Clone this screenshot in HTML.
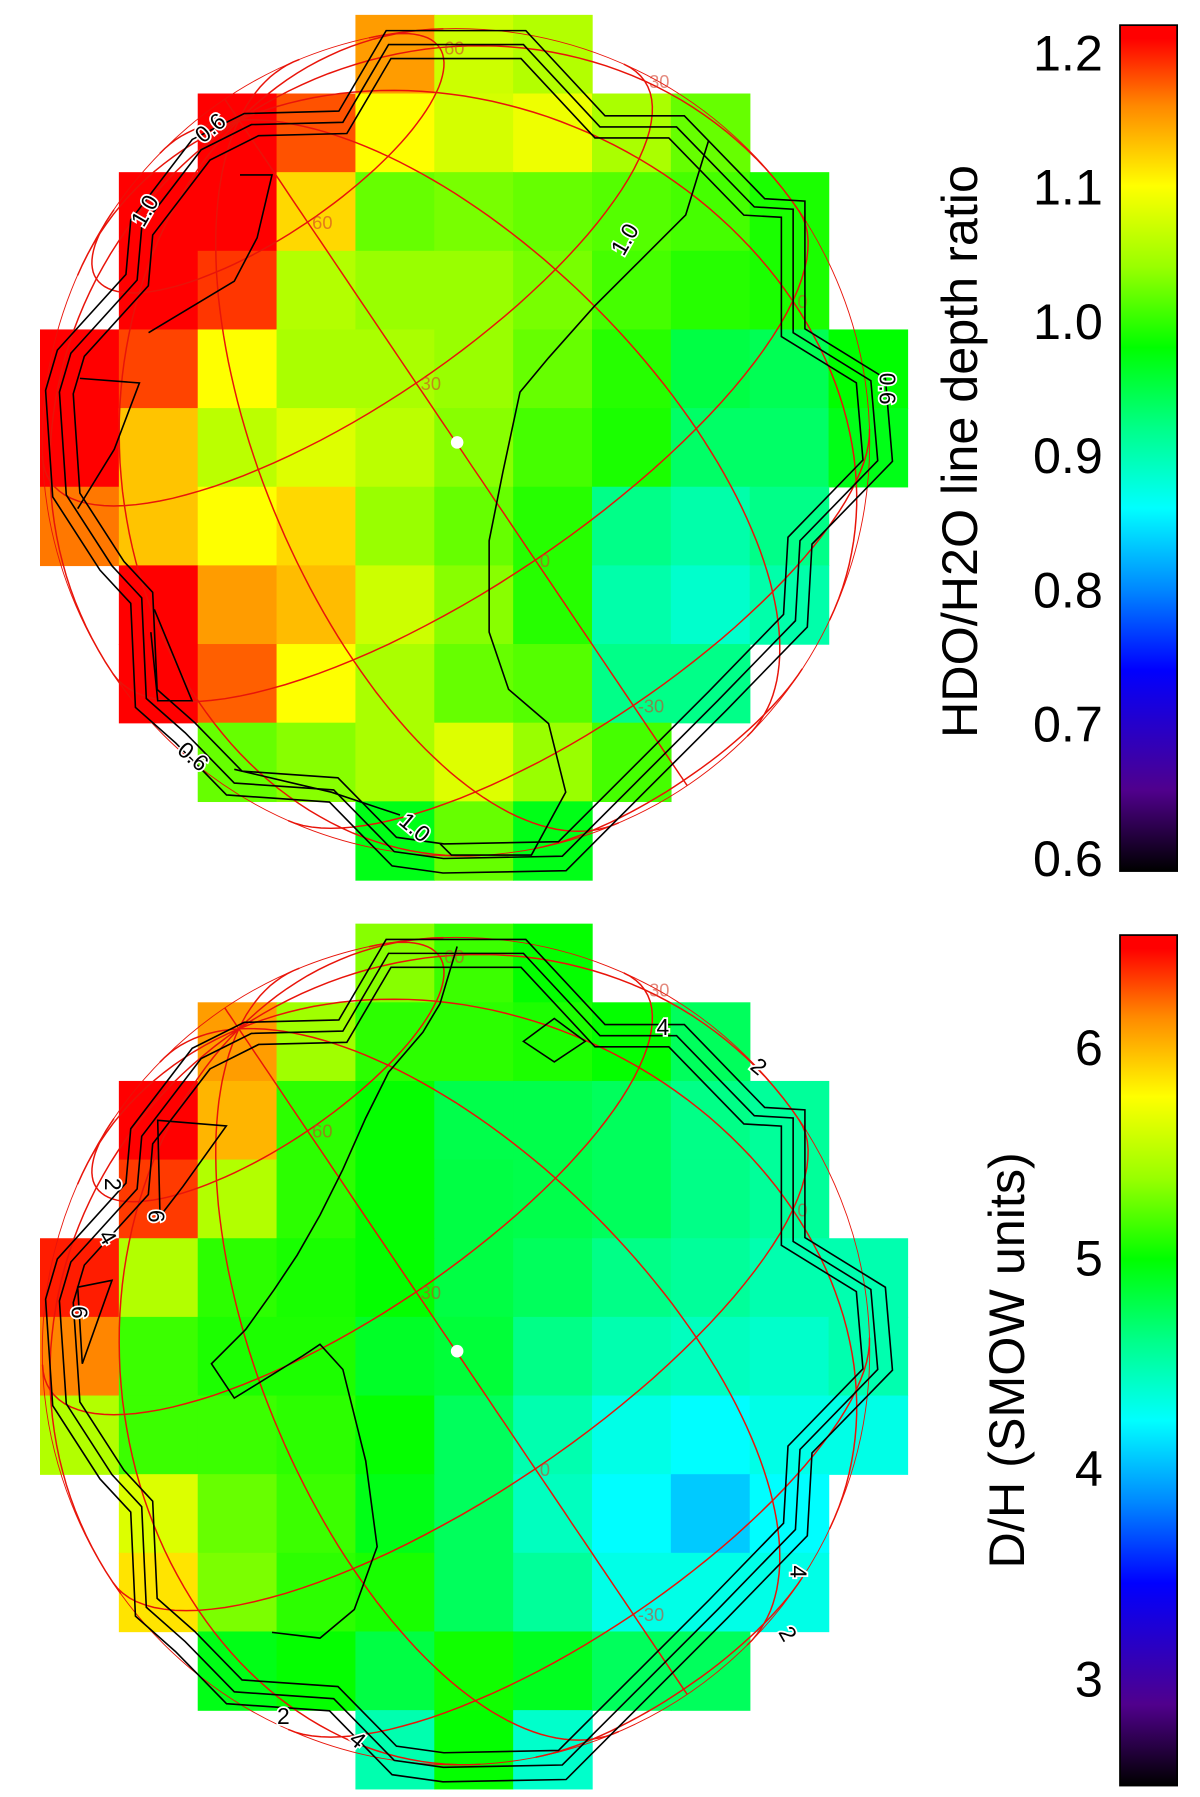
<!DOCTYPE html>
<html><head><meta charset="utf-8">
<style>
html,body{margin:0;padding:0;background:#fff;}
svg{display:block;}
text{font-family:"Liberation Sans",sans-serif;}
</style></head>
<body>
<svg id="fig" width="1200" height="1797" viewBox="0 0 1050 1572" preserveAspectRatio="none" xmlns="http://www.w3.org/2000/svg">
<defs>
<linearGradient id="cmap" x1="0" y1="1" x2="0" y2="0"></linearGradient>
</defs>
<g id="top-panel"></g>
<g id="bot-panel"></g>
<g id="bars"></g>
</svg>
<script>
// ---- data ----
const N = null;
const ratioGrid = [
[N,N,N,N,1.15,1.07,1.055,N,N,N,N],
[N,N,1.21,1.18,1.10,1.075,1.09,1.05,1.02,N,N],
[N,1.21,1.21,1.12,1.02,1.027,1.02,1.013,1.007,0.99,N],
[N,1.21,1.19,1.055,1.04,1.04,1.027,1.007,0.995,0.99,N],
[1.21,1.185,1.10,1.05,1.05,1.04,1.02,0.995,0.95,0.943,0.98],
[1.21,1.13,1.06,1.08,1.06,1.033,1.007,0.99,0.935,0.935,0.97],
[1.166,1.13,1.10,1.12,1.04,1.02,0.995,0.92,0.903,0.92,N],
[N,1.21,1.15,1.134,1.07,1.033,0.995,0.903,0.886,0.903,N],
[N,1.21,1.175,1.10,1.05,1.02,1.013,0.92,0.92,N,N],
[N,N,1.02,1.033,1.05,1.08,1.04,1.007,N,N,N],
[N,N,N,N,0.97,1.02,0.97,N,N,N,N]
];
const dhGrid = [
[N,N,N,N,5.33,5.14,5.0,N,N,N,N],
[N,N,6.08,5.40,5.1,5.1,5.06,5.0,4.73,N,N],
[N,6.47,6.0,5.1,5.0,4.78,4.78,4.73,4.61,4.55,N],
[N,6.33,5.47,5.1,5.0,4.8,4.78,4.73,4.61,4.55,N],
[6.4,5.47,5.1,5.05,5.0,4.8,4.73,4.61,4.55,4.48,4.48],
[6.15,5.14,5.06,5.06,4.88,4.83,4.61,4.48,4.43,4.39,4.48],
[5.47,5.14,5.14,5.1,5.0,4.73,4.48,4.3,4.22,4.3,4.3],
[N,5.63,5.25,5.14,4.93,4.73,4.43,4.22,4.05,4.22,N],
[N,5.85,5.3,5.1,5.05,4.73,4.55,4.3,4.3,4.3,N],
[N,N,4.93,5.0,4.8,5.03,4.9,4.73,4.73,N,N],
[N,N,N,N,4.48,5.0,4.39,N,N,N,N]
];
const ratioTicks = [0.6,0.7,0.8,0.9,1.0,1.1,1.2];
const ratioTickLabels = ["0.6","0.7","0.8","0.9","1.0","1.1","1.2"];
const dhTicks = [3,4,5,6];
const dhTickLabels = ["3","4","5","6"];
const ratioRange = [0.59,1.22];
const dhRange = [2.49,6.53];
const cmapStops = [[0,"#000000"],[0.095,"#50008c"],[0.175,"#2400cc"],[0.238,"#0000ff"],[0.333,"#0088ff"],[0.429,"#00ffff"],[0.524,"#00ff88"],[0.619,"#00ff00"],[0.714,"#99ff00"],[0.81,"#ffff00"],[0.905,"#ff8800"],[0.984,"#ff0000"],[1,"#ff0000"]];

const NS="http://www.w3.org/2000/svg";
function mk(tag,attrs,parent){const e=document.createElementNS(NS,tag);for(const k in attrs)e.setAttribute(k,attrs[k]);if(parent)parent.appendChild(e);return e;}
function hex(h){return [parseInt(h.slice(1,3),16),parseInt(h.slice(3,5),16),parseInt(h.slice(5,7),16)];}
function cmap(t){t=Math.max(0,Math.min(1,t));for(let i=1;i<cmapStops.length;i++){if(t<=cmapStops[i][0]){const a=cmapStops[i-1],b=cmapStops[i];const f=(t-a[0])/(b[0]-a[0]||1);const ca=hex(a[1]),cb=hex(b[1]);return "rgb("+ca.map((v,j)=>Math.round(v+(cb[j]-v)*f)).join(",")+")";}}return cmapStops[cmapStops.length-1][1];}
const grad=document.getElementById('cmap');
cmapStops.forEach(s=>mk('stop',{offset:s[0],'stop-color':s[1]},grad));

function drawPanel(g,grid,range,y0,contours,labels){
  const x0=35,cw=69,ch=68.8;
  grid.forEach((row,r)=>row.forEach((v,c)=>{
    if(v===null)return;
    const t=(v-range[0])/(range[1]-range[0]);
    const e=mk('rect',{x:x0+c*cw,y:y0+r*ch,width:cw+0.6,height:ch+0.6,fill:cmap(t)},g);
    
    
  }));
  const cx=399,cy=y0+374,R=362;
  const gr=mk('g',{fill:'none',stroke:'#e8140a','stroke-width':1.3},g);
  
  
  mk('circle',{cx:cx,cy:cy,r:R,'stroke-width':0.8},gr);
  const px=-190,py=-282,pd=Math.hypot(px,py);
  const cosP=pd/R,phi0=Math.acos(Math.min(1,cosP));
  const u=[px/pd,py/pd],rt=[-u[1],u[0]];
  const rad=Math.PI/180;
  function P(lat,lon){lat*=rad;lon*=rad;
    const X=Math.cos(lat)*Math.sin(lon);
    const Y=Math.cos(phi0)*Math.sin(lat)-Math.sin(phi0)*Math.cos(lat)*Math.cos(lon);
    const Z=Math.sin(phi0)*Math.sin(lat)+Math.cos(phi0)*Math.cos(lat)*Math.cos(lon);
    return {x:cx+R*(X*rt[0]+Y*u[0]),y:cy+R*(X*rt[1]+Y*u[1]),z:Z};}
  function curve(pts){let d="",pen=false;pts.forEach(p=>{if(p.z>-0.02){d+=(pen?"L":"M")+p.x.toFixed(1)+" "+p.y.toFixed(1);pen=true;}else pen=false;});if(d)mk('path',{d:d},gr);}
  for(let lon=-180;lon<180;lon+=30){const pts=[];for(let lat=-90;lat<=90;lat+=2)pts.push(P(lat,lon));curve(pts);}
  for(let lat=-60;lat<=60;lat+=30){const pts=[];for(let lon=-180;lon<=180;lon+=3)pts.push(P(lat,lon));curve(pts);}
  [[60,0],[30,0],[0,0],[-30,0],[60,90],[30,90],[-30,90],[-30,-90],[0,60]].forEach(l=>{
    const p=P(l[0],l[1]);if(p.z<0)return;
    const t=mk('text',{x:p.x+4,y:p.y+6,'font-size':16,fill:'#d23c28','fill-opacity':0.6},g);t.textContent=String(l[0]);
    
    
  });
  const cg=mk('g',{fill:'none',stroke:'#000','stroke-width':1.4},g);
  
  
  contours.forEach(c=>{
    const pts=c.pts.map(p=>[p[0],p[1]+y0]);
    (c.triple?[0.965,1.0,1.035]:[1]).forEach(s=>{
      const d=pts.map((p,i)=>(i?"L":"M")+(cx+(p[0]-cx)*s).toFixed(1)+" "+(cy+(p[1]-cy)*s).toFixed(1)).join("")+(c.closed?"Z":"");
      mk('path',{d:d},cg);
    });
  });
  labels.forEach(l=>{
    const t=mk('text',{x:l[0],y:l[1]+y0,'font-size':20,fill:'#000','text-anchor':'middle','dominant-baseline':'middle',transform:`rotate(${l[3]} ${l[0]} ${l[1]+y0})`,stroke:'#fff','stroke-width':3,'paint-order':'stroke'},g);
    t.textContent=l[2];
    
    
  });
  const dot=mk('circle',{cx:400,cy:y0+374,r:5.5,fill:'#fff'},g);
  
  
}
const outer=[[340,26],[458,26],[525,98],[592,98],[660,168],[694,170],[694,278],[762,320],[768,390],[700,460],[696,530],[628,600],[560,668],[492,736],[388,738],[345,732],[292,678],[205,672],[162,628],[128,598],[124,510],[98,482],[58,420],[52,330],[62,296],[120,232],[124,186],[176,118],[220,96],[300,94]];
const topContours=[
 {pts:outer,closed:true,triple:true},
 {pts:[[620,110],[600,175],[560,215],[520,255],[480,300],[455,330],[440,400],[428,460],[428,540],[445,590],[480,620],[495,680],[465,735],[395,735],[385,725]],closed:false},
 {pts:[[130,278],[205,233],[225,195],[238,140],[210,140]],closed:false},
 {pts:[[70,318],[122,322],[100,380],[68,432]],closed:false},
 {pts:[[135,520],[168,600],[138,600],[132,540]],closed:false},
 {pts:[[205,660],[290,680],[350,700]],closed:false}
];
const topLabels=[[185,100,"0.6",-40],[128,172,"1.0",-60],[548,197,"1.0",-60],[775,327,"0.6",90],[168,650,"0.6",40],[362,712,"1.0",40]];
const botContours=[
 {pts:outer,closed:true,triple:true},
 {pts:[[400,20],[385,70],[370,95],[340,130],[320,170],[300,215],[280,255],[260,290],[240,320],[215,355],[185,385],[205,415],[265,378],[280,368],[300,390],[320,470],[330,545],[310,600],[280,625],[238,620]],closed:false},
 {pts:[[458,103],[485,83],[512,103],[485,121]],closed:true},
 {pts:[[138,172],[198,177],[160,230],[140,256]],closed:true},
 {pts:[[68,318],[98,312],[72,385]],closed:true}
];
const botLabels=[[580,92,"4",0],[663,126,"2",40],[97,228,"2",90],[93,275,"4",60],[135,256,"6",90],[68,340,"6",90],[697,567,"4",90],[688,622,"2",60],[248,695,"2",0],[312,715,"4",40]];
drawPanel(document.getElementById('top-panel'),ratioGrid,ratioRange,13,topContours,topLabels);
drawPanel(document.getElementById('bot-panel'),dhGrid,dhRange,808,botContours,botLabels);

function colorbar(g,yTop,yBot,range,ticks,labels,title,titleX,titleY,name){
  const b=mk('rect',{x:980,y:yTop,width:50,height:yBot-yTop,fill:'url(#cmap)',stroke:'#000','stroke-width':1.5},g);
  
  
  ticks.forEach((v,i)=>{
    const y=yBot-(v-range[0])/(range[1]-range[0])*(yBot-yTop);
    const t=mk('text',{x:965,y:y+16,'font-size':44,'text-anchor':'end',fill:'#000'},g);
    t.textContent=labels[i];
    
    
  });
  const tt=mk('text',{x:titleX,y:titleY,'font-size':44,'text-anchor':'middle',fill:'#000',transform:`rotate(-90 ${titleX} ${titleY})`},g);
  tt.textContent=title;
  
  
}
const bars=document.getElementById('bars');
colorbar(bars,22,762,ratioRange,ratioTicks,ratioTickLabels,"HDO/H2O line depth ratio",855,395,'ratio');
colorbar(bars,818,1562,dhRange,dhTicks,dhTickLabels,"D/H (SMOW units)",896,1190,'dh');
</script>
</body></html>
